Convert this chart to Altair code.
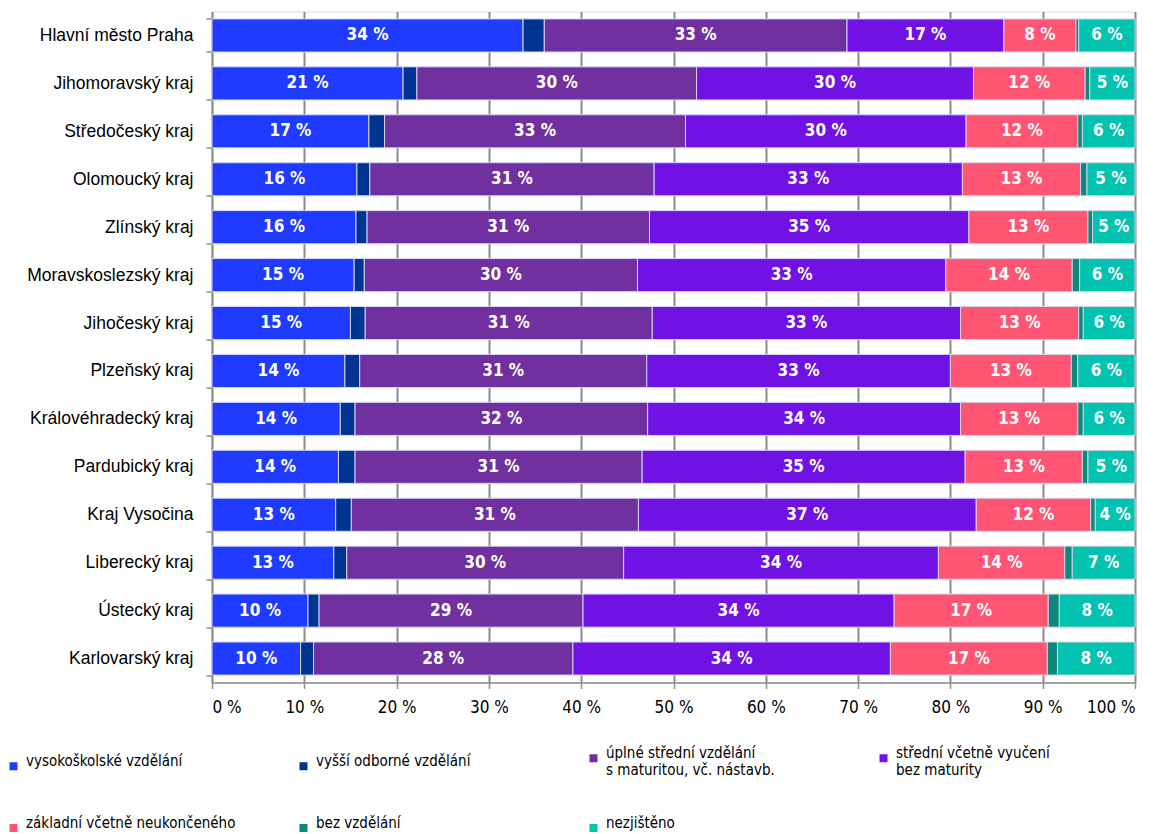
import altair as alt
import pandas as pd

regions = ["Hlavní město Praha", "Jihomoravský kraj", "Středočeský kraj", "Olomoucký kraj",
           "Zlínský kraj", "Moravskoslezský kraj", "Jihočeský kraj", "Plzeňský kraj",
           "Královéhradecký kraj", "Pardubický kraj", "Kraj Vysočina", "Liberecký kraj",
           "Ústecký kraj", "Karlovarský kraj"]

categories = ["vysokoškolské vzdělání", "vyšší odborné vzdělání",
              "úplné střední vzdělání\ns maturitou, vč. nástavb.",
              "střední včetně vyučení\nbez maturity",
              "základní včetně neukončeného", "bez vzdělání", "nezjištěno"]

colors = ["#1F3BFF", "#003492", "#7030A0", "#6F12E3", "#FF5573", "#0E8878", "#02C2B0"]
labelled = [True, False, True, True, True, False, True]

vysokoskolske = [33.7, 20.7, 17.0, 15.7, 15.6, 15.4, 15.0, 14.4, 13.9, 13.7, 13.4, 13.2, 10.4, 9.6]
vyssi_odborne = [2.3, 1.5, 1.7, 1.4, 1.2, 1.1, 1.6, 1.6, 1.6, 1.8, 1.7, 1.4, 1.2, 1.4]
uplne_stredni = [32.8, 30.3, 32.6, 30.8, 30.6, 29.6, 31.1, 31.1, 31.7, 31.1, 31.1, 30.0, 28.6, 28.1]
stredni_vyuceni = [17.0, 30.0, 30.4, 33.4, 34.6, 33.4, 33.4, 32.9, 33.9, 35.0, 36.6, 34.1, 33.7, 34.4]
zakladni = [7.8, 12.1, 12.1, 12.8, 12.9, 13.7, 12.8, 13.1, 12.7, 12.7, 12.4, 13.7, 16.7, 17.0]
bez_vzdelani = [0.3, 0.5, 0.5, 0.7, 0.5, 0.8, 0.5, 0.7, 0.6, 0.6, 0.5, 0.8, 1.2, 1.1]
nezjisteno = [6.1, 4.9, 5.7, 5.2, 4.6, 6.0, 5.6, 6.2, 5.6, 5.1, 4.3, 6.8, 8.2, 8.4]

series = [vysokoskolske, vyssi_odborne, uplne_stredni, stredni_vyuceni,
          zakladni, bez_vzdelani, nezjisteno]

rows = []
for ci, (cat, vals) in enumerate(zip(categories, series)):
    for ri, reg in enumerate(regions):
        rows.append({"region": reg, "category": cat, "order": ci,
                     "value": vals[ri], "labelled": labelled[ci]})
df = pd.DataFrame(rows)

NARROW = "DejaVu Sans Condensed, Liberation Sans, sans-serif"
REG = "Liberation Sans, Arial, sans-serif"
GRAY = "#8C8C8C"

yenc = alt.Y("region:N", sort=regions,
             scale=alt.Scale(paddingInner=0.31, paddingOuter=0.155),
             axis=alt.Axis(title=None, labelFont=REG, labelFontSize=17.5, labelColor="#000000",
                           labelPadding=13, tickSize=6, tickColor=GRAY, tickWidth=1.5,
                           domainColor=GRAY, domainWidth=1.5, tickBand="extent", grid=False))

base = alt.Chart(df).transform_stack(
    stack="value", groupby=["region"],
    sort=[alt.SortField("order", order="ascending")], as_=["x0", "x1"])

bars = base.mark_bar(stroke="#D4D4F0", strokeWidth=1).encode(
    y=yenc,
    x=alt.X("x0:Q", scale=alt.Scale(domain=[0, 100], nice=False),
            axis=alt.Axis(title=None, values=list(range(0, 101, 10)),
                          labelExpr="datum.value + ' %'", labelFont=NARROW, labelFontSize=17,
                          labelColor="#000000", labelPadding=11, tickSize=6, tickColor=GRAY,
                          tickWidth=1.5, domainColor=GRAY, domainWidth=1.5,
                          grid=True, gridColor=GRAY, gridWidth=2)),
    x2="x1:Q",
    color=alt.Color("category:N", sort=categories,
                    scale=alt.Scale(domain=categories, range=colors),
                    legend=alt.Legend(title=None, orient="none", legendX=-206, legendY=739,
                                      direction="horizontal", columns=4, gridAlign="all",
                                      columnPadding=60, rowPadding=37,
                                      symbolType="square", symbolSize=64, symbolStrokeWidth=0,
                                      symbolOpacity=1,
                                      labelFont=NARROW, labelFontSize=15, labelColor="#000000",
                                      labelOffset=5, labelLimit=400, labelBaseline="alphabetic",
                                      labelExpr="split(datum.label, '\\n')")),
)

texts = base.transform_filter("datum.labelled").transform_calculate(
    mid="(datum.x0 + datum.x1) / 2",
    label="round(datum.value) + ' %'").mark_text(
    color="white", font=NARROW, fontWeight="bold", fontSize=17, baseline="middle").encode(
    y=alt.Y("region:N", sort=regions), x=alt.X("mid:Q"), text="label:N")

chart = alt.layer(bars, texts).properties(
    width=923, height=671,
    autosize=alt.AutoSizeParams(type="none"),
    padding={"left": 204, "top": 3.5, "right": 17, "bottom": 155},
).configure_view(stroke=None).configure(background="white")

chart.save("out.html", embed_options={"renderer": "svg", "actions": False})
